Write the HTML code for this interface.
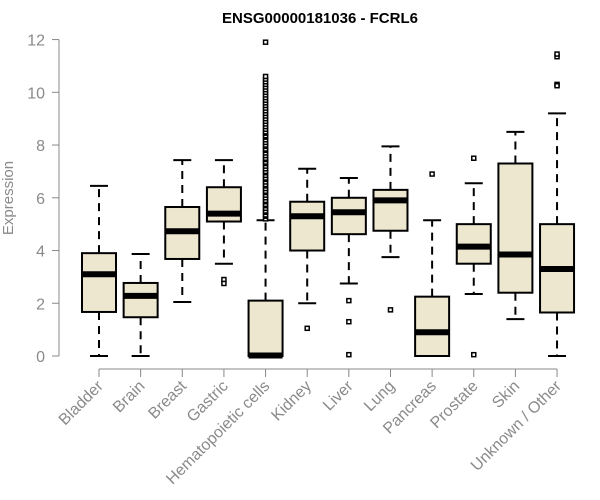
<!DOCTYPE html>
<html><head><meta charset="utf-8"><style>
body{margin:0;background:#fff}
svg{display:block;font-family:"Liberation Sans",Arial,sans-serif}
</style></head><body>
<svg id="chart" width="600" height="500">
<text x="320" y="23" text-anchor="middle" font-size="15" font-weight="bold">ENSG00000181036 - FCRL6</text>
<text transform="translate(13,198) rotate(-90)" text-anchor="middle" font-size="15" fill="#8a8a8a">Expression</text>
<g id="plot"></g>
</svg>
<script>
const categories=["Bladder","Brain","Breast","Gastric","Hematopoietic cells","Kidney","Liver","Lung","Pancreas","Prostate","Skin","Unknown / Other"];
const lows=[0,0,2.05,3.5,0,2.0,2.75,3.75,0,2.35,1.4,0];
const q1s=[1.67,1.47,3.68,5.1,0,4.0,4.62,4.75,0,3.5,2.4,1.65];
const medians=[3.1,2.28,4.73,5.4,0.02,5.3,5.45,5.9,0.9,4.15,3.85,3.3];
const q3s=[3.9,2.77,5.65,6.4,2.1,5.85,6.0,6.3,2.25,5.0,7.3,5.0];
const highs=[6.45,3.87,7.43,7.43,5.15,7.1,6.75,7.95,5.15,6.55,8.5,9.2];
const outliers=[[],[],[],[2.9,2.75],
[5.2,5.3,5.35,5.45,5.5,5.6,5.7,5.75,5.85,5.9,6.0,6.1,6.2,6.25,6.35,6.45,6.5,6.6,6.7,6.75,6.85,6.95,7.0,7.1,7.2,7.3,7.35,7.45,7.5,7.6,7.7,7.8,7.85,7.95,8.0,8.1,8.2,8.3,8.35,8.45,8.5,8.6,8.7,8.8,8.9,9.0,9.1,9.2,9.3,9.4,9.5,9.6,9.7,9.8,9.9,10.0,10.1,10.2,10.3,10.4,10.5,10.6,11.9],
[1.05],[2.1,1.3,0.05],[1.75],[6.9],[7.5,0.05],[],[10.3,10.25,11.35,11.45]];
const yTicks=[0,2,4,6,8,10,12];
const NS="http://www.w3.org/2000/svg";
const g=document.getElementById('plot');
const y=v=>356-v*26.37;
const x=i=>99+i*41.64;
function mk(t,a){const e=document.createElementNS(NS,t);for(const k in a)e.setAttribute(k,a[k]);g.appendChild(e);return e;}
let e=mk('line',{x1:59,x2:59,y1:y(0),y2:y(12),stroke:'#888'});


yTicks.forEach(v=>{
 let t=mk('line',{x1:52,x2:59,y1:y(v),y2:y(v),stroke:'#888'});
 
 
 let l=mk('text',{x:45,y:y(v)+6,'text-anchor':'end','font-size':16,fill:'#8a8a8a'});
 l.textContent=v;
 
 
});
e=mk('line',{x1:x(0),x2:x(categories.length-1),y1:369,y2:369,stroke:'#888'});


const hw=17;
categories.forEach((c,i)=>{
 const cx=x(i);
 let t=mk('line',{x1:cx,x2:cx,y1:369,y2:377,stroke:'#888'});
 
 
 let l=mk('text',{transform:`translate(${cx+5},${387}) rotate(-45)`,'text-anchor':'end','font-size':16,fill:'#8a8a8a'});
 l.textContent=c;
 
 
 let w1=mk('line',{x1:cx,x2:cx,y1:y(q3s[i]),y2:y(highs[i]),stroke:'#000','stroke-width':2,'stroke-dasharray':'8,6'});
 
 
 let w2=mk('line',{x1:cx,x2:cx,y1:y(q1s[i]),y2:y(lows[i]),stroke:'#000','stroke-width':2,'stroke-dasharray':'8,6'});
 
 
 let c1=mk('line',{x1:cx-9,x2:cx+9,y1:y(highs[i]),y2:y(highs[i]),stroke:'#000','stroke-width':2});
 
 
 let c2=mk('line',{x1:cx-9,x2:cx+9,y1:y(lows[i]),y2:y(lows[i]),stroke:'#000','stroke-width':2});
 
 
 let b=mk('rect',{x:cx-hw,y:y(q3s[i]),width:hw*2,height:y(q1s[i])-y(q3s[i]),fill:'#ede7cf',stroke:'#000','stroke-width':2});
 
 
 let m=mk('line',{x1:cx-hw,x2:cx+hw,y1:y(medians[i]),y2:y(medians[i]),stroke:'#000','stroke-width':6});
 
 
 outliers[i].forEach(v=>{
  let o=mk('rect',{x:cx-2,y:y(v)-2,width:4,height:4,fill:'#fff',stroke:'#000','stroke-width':1.5});
  
  
 });
});
</script>
</body></html>
